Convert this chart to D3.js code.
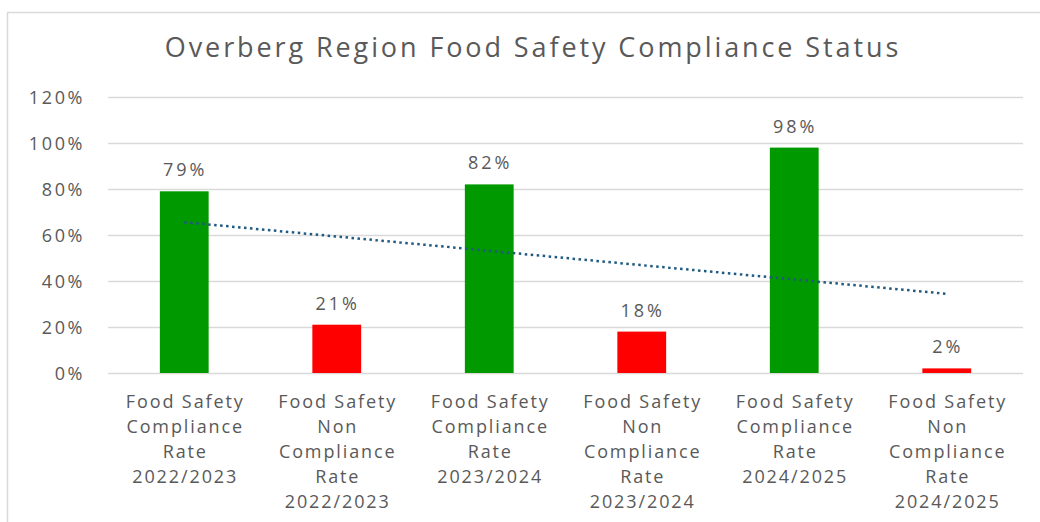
<!DOCTYPE html>
<html>
<head>
<meta charset="utf-8">
<script src="https://cdn.jsdelivr.net/npm/d3@7"></script>
<style>
  body { margin: 0; background: #fff; }
  svg text { font-family: "Open Sans", sans-serif; fill: #595959; }
</style>
</head>
<body>
<svg id="chart" width="1040" height="522"></svg>
<script>
var categories = [
    ["Food Safety", "Compliance", "Rate", "2022/2023"],
    ["Food Safety", "Non", "Compliance", "Rate", "2022/2023"],
    ["Food Safety", "Compliance", "Rate", "2023/2024"],
    ["Food Safety", "Non", "Compliance", "Rate", "2023/2024"],
    ["Food Safety", "Compliance", "Rate", "2024/2025"],
    ["Food Safety", "Non", "Compliance", "Rate", "2024/2025"]];
var values = [79, 21, 82, 18, 98, 2];
var barColors = ["#009900", "#ff0000", "#009900", "#ff0000", "#009900", "#ff0000"];
var yTicks = [0, 20, 40, 60, 80, 100, 120];
var title = "Overberg Region Food Safety Compliance Status";

var svg = d3.select("#chart");

// chart frame
svg.append("path")
    .attr("d", "M7.5,530 V12.5 H1045")
    .attr("fill", "none")
    .attr("stroke", "#d9d9d9")
    .attr("stroke-width", 1.5);

var plotLeft = 108, plotRight = 1023, plotTop = 97, plotBottom = 373;

var x = d3.scaleBand()
    .domain(d3.range(values.length))
    .range([plotLeft, plotRight])
    .paddingInner(0.68)
    .paddingOuter(0.34);

var y = d3.scaleLinear().domain([0, 120]).range([plotBottom, plotTop]);

svg.append("text")
    .attr("x", 533)
    .attr("y", 57)
    .attr("text-anchor", "middle")
    .style("font-size", "27px")
    .style("letter-spacing", "2.9px")
    .text(title);

// gridlines
svg.append("g").selectAll("line")
    .data(yTicks)
    .enter().append("line")
    .attr("x1", plotLeft).attr("x2", plotRight)
    .attr("y1", function(d){ return y(d) + 0.5; })
    .attr("y2", function(d){ return y(d) + 0.5; })
    .attr("stroke", "#d9d9d9")
    .attr("stroke-width", 1.5);

var yAxis = svg.append("g")
    .attr("transform", "translate(" + (plotLeft - 23) + ",0)")
    .call(d3.axisLeft(y).tickValues(yTicks).tickSize(0).tickFormat(function(d){ return d + "%"; }));
yAxis.select(".domain").remove();
yAxis.selectAll("text")
    .attr("x", 0)
    .attr("dy", "0.35em")
    .style("font-size", "18px")
    .style("letter-spacing", "2.6px")
    .style("font-family", "'Open Sans', sans-serif")
    .attr("fill", "#595959");

// bars
svg.append("g").selectAll("rect")
    .data(values)
    .enter().append("rect")
    .attr("x", function(d, i){ return x(i); })
    .attr("width", x.bandwidth())
    .attr("y", function(d){ return y(d); })
    .attr("height", function(d){ return plotBottom - y(d); })
    .attr("fill", function(d, i){ return barColors[i]; });

// data labels
svg.append("g").selectAll("text")
    .data(values)
    .enter().append("text")
    .attr("x", function(d, i){ return x(i) + x.bandwidth() / 2 + 1; })
    .attr("y", function(d){ return y(d) - 15; })
    .attr("text-anchor", "middle")
    .style("font-size", "18px")
    .style("letter-spacing", "3px")
    .text(function(d){ return d + "%"; });

// linear trendline (least squares)
var xs = d3.range(1, values.length + 1);
var mx = d3.mean(xs), my = d3.mean(values);
var slope = d3.sum(xs, function(v, i){ return (v - mx) * (values[i] - my); }) /
            d3.sum(xs, function(v){ return (v - mx) * (v - mx); });
var icpt = my - slope * mx;

svg.append("line")
    .attr("x1", x(0) + x.bandwidth() / 2)
    .attr("x2", x(values.length - 1) + x.bandwidth() / 2)
    .attr("y1", y(icpt + slope * 1))
    .attr("y2", y(icpt + slope * values.length))
    .attr("stroke", "#1f5a82")
    .attr("stroke-width", 2.5)
    .attr("stroke-dasharray", "2.5,3.5");

// category labels
var cats = svg.append("g").selectAll("text")
    .data(categories)
    .enter().append("text")
    .attr("text-anchor", "middle")
    .attr("x", function(d, i){ return x(i) + x.bandwidth() / 2 + 1; })
    .attr("y", 408)
    .style("font-size", "18px")
    .style("letter-spacing", "1.9px");

cats.selectAll("tspan")
    .data(function(d){ return d; })
    .enter().append("tspan")
    .attr("x", function(){ return this.parentNode.getAttribute("x"); })
    .attr("dy", function(d, i){ return i === 0 ? 0 : 25; })
    .text(function(d){ return d; });
</script>
</body>
</html>
